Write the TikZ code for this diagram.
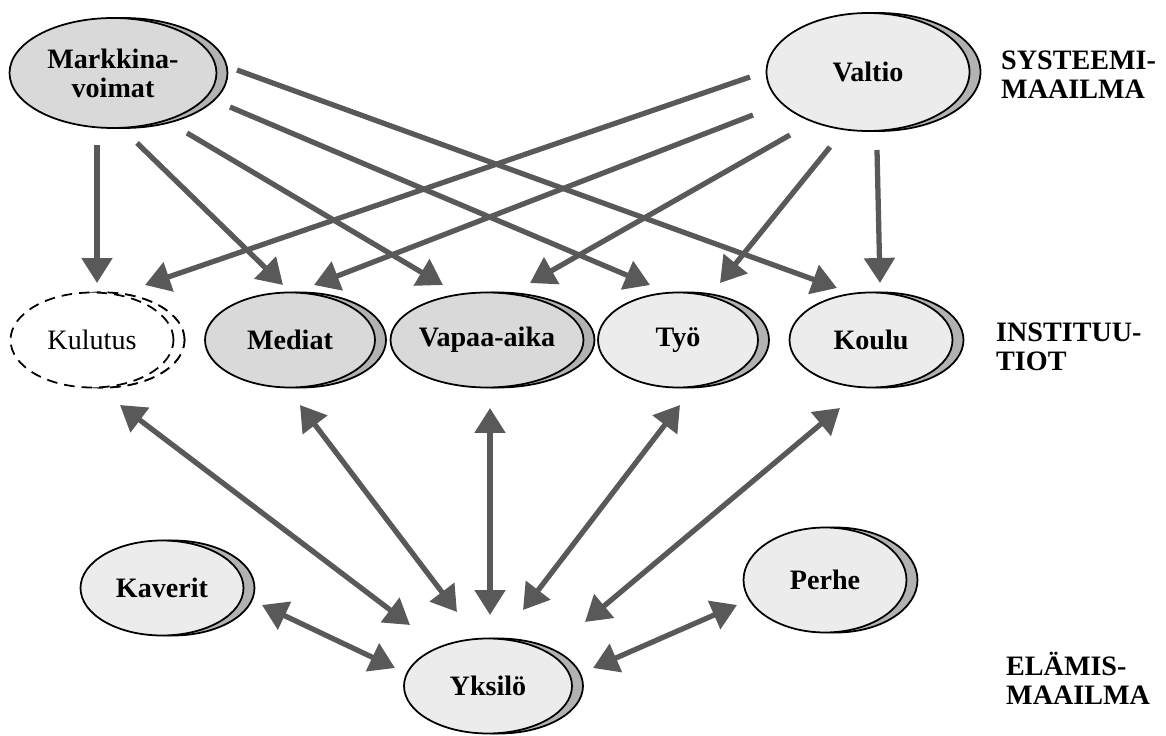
\documentclass[tikz,border=0pt]{standalone}
\usepackage{fontspec}
\setmainfont{Liberation Serif}
\usetikzlibrary{shapes.geometric,shadows,arrows.meta}

\tikzset{
	blob/.style={ellipse, draw, line width=1pt, fill=gray!15, inner sep=0pt,
		minimum width=3.26cm, minimum height=1.9cm, align=center,
		font=\fontsize{16}{16.5}\selectfont\bfseries,
		general shadow={draw, line width=1pt, fill=gray!60, shadow xshift=0.22cm, shadow yshift=0pt}},
	darkblob/.style={blob, fill=gray!30},
	dashblob/.style={blob, dash pattern=on 6pt off 4pt, fill=white, font=\fontsize{16}{16.5}\selectfont,
		general shadow={draw, line width=1pt, dash pattern=on 6pt off 4pt, fill=white, shadow xshift=0.22cm, shadow yshift=0pt}},
	level/.style={anchor=west, align=left, font=\fontsize{16}{16.5}\selectfont\bfseries},
	link/.style={-{Triangle[width=0.6cm,length=0.5cm]}, line width=3pt, draw=black!65, fill=black!65},
	both/.style={link, {Triangle[width=0.6cm,length=0.5cm]}-{Triangle[width=0.6cm,length=0.5cm]}}
}

\begin{document}
\begin{tikzpicture}[x=0.02cm, y=-0.02cm]
	\useasboundingbox (0,0) rectangle (1166,736);
	% systeemimaailma
	\node [darkblob, minimum width=4.14cm, minimum height=2.2cm] (mv) at (113,73) {Markkina-\\voimat};
	\node [blob, minimum width=4.06cm, minimum height=2.36cm] (val) at (868,72) {Valtio};
	% instituutiot
	\node [dashblob] (kul) at (92,340) {Kulutus};
	\node [darkblob, minimum width=3.4cm] (med) at (290,340) {Mediat};
	\node [darkblob] (vap) at (487,340) {Vapaa-aika};
	\node [blob, minimum width=3.2cm] (tyo) at (678,340) {Työ};
	\node [blob] (kou) at (871,340) {Koulu};
	% elämismaailma
	\node [blob] (kav) at (162,588) {Kaverit};
	\node [blob, minimum width=3.36cm] (yks) at (488,686) {Yksilö};
	\node [blob, minimum height=2.1cm] (per) at (825,580) {Perhe};
	% tasot
	\node [level] (sys) at (995,75) {SYSTEEMI-\\MAAILMA};
	\node [level] (ins) at (990,347) {INSTITUU-\\TIOT};
	\node [level] (ela) at (1000,678) {ELÄMIS-\\MAAILMA};
	% markkinavoimat
	\draw [link] ([shift={(-16,72)}]mv.center) -- ([shift={(5,-57)}]kul.center);
	\draw [link] ([shift={(24,70)}]mv.center) -- ([shift={(-7,-55)}]med.center);
	\draw [link] ([shift={(74,60)}]mv.center) -- ([shift={(-44,-55)}]vap.center);
	\draw [link] ([shift={(117,34)}]mv.center) -- ([shift={(-28,-55)}]tyo.center);
	\draw [link] ([shift={(124,-3)}]mv.center) -- ([shift={(-34,-52)}]kou.center);
	% valtio
	\draw [link] ([shift={(-118,5)}]val.center) -- ([shift={(53,-55)}]kul.center);
	\draw [link] ([shift={(-115,43)}]val.center) -- ([shift={(24,-55)}]med.center);
	\draw [link] ([shift={(-78,63)}]val.center) -- ([shift={(43,-57)}]vap.center);
	\draw [link] ([shift={(-38,75)}]val.center) -- ([shift={(42,-57)}]tyo.center);
	\draw [link] ([shift={(9,78)}]val.center) -- ([shift={(9,-57)}]kou.center);
	% yksilö
	\draw [both] ([shift={(28,65)}]kul.center) -- ([shift={(-78,-61)}]yks.center);
	\draw [both] ([shift={(10,65)}]med.center) -- ([shift={(-31,-74)}]yks.center);
	\draw [both] ([shift={(3,68)}]vap.center) -- ([shift={(2,-71)}]yks.center);
	\draw [both] ([shift={(2,65)}]tyo.center) -- ([shift={(35,-76)}]yks.center);
	\draw [both] ([shift={(-31,68)}]kou.center) -- ([shift={(97,-64)}]yks.center);
	\draw [both] ([shift={(100,17)}]kav.center) -- ([shift={(-93,-18)}]yks.center);
	\draw [both] ([shift={(-88,25)}]per.center) -- ([shift={(105,-18)}]yks.center);
\end{tikzpicture}
\end{document}
